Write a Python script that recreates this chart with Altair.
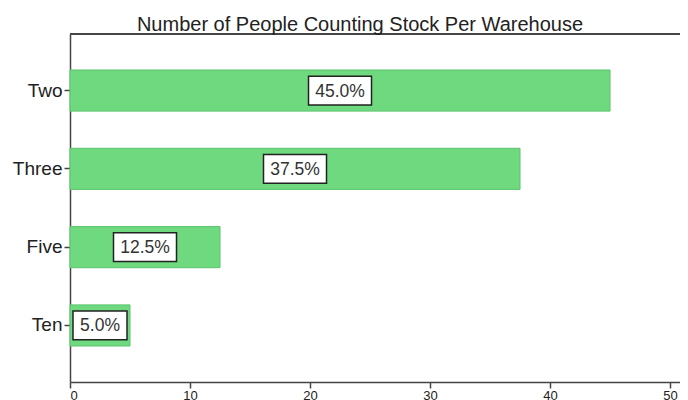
import altair as alt
import pandas as pd

categories = ["Two", "Three", "Five", "Ten"]
percents = [45.0, 37.5, 12.5, 5.0]
x_ticks = [0, 10, 20, 30, 40, 50]
title_text = "Number of People Counting Stock Per Warehouse"

df = pd.DataFrame({"cat": categories, "pct": percents})

FONT = "Liberation Sans"
PLOT_W = 610
X_MAX = 50.83
PX_PER_UNIT = PLOT_W / X_MAX

x_scale = alt.Scale(domain=[0, X_MAX], nice=False, zero=True)
y_scale = alt.Scale(domain=categories, paddingInner=0.475, paddingOuter=0.46)

y_enc = alt.Y("cat:N", sort=categories, scale=y_scale,
              axis=alt.Axis(title=None, labelFont=FONT, labelFontSize=19, labelColor="#222222",
                            tickSize=6, tickColor="#444444", tickWidth=1.5,
                            domainColor="#444444", domainWidth=1.5, labelPadding=2,
                            grid=False))

bars = alt.Chart(df).mark_bar(color="#6ed97f", stroke="#5bc46c", strokeWidth=1).encode(
    x=alt.X("pct:Q", scale=x_scale,
            axis=alt.Axis(title=None, values=x_ticks, labelFont=FONT, labelFontSize=13,
                          labelColor="#222222", tickSize=6, tickColor="#444444", tickWidth=1.5,
                          domainColor="#444444", domainWidth=1.5, labelPadding=1, grid=False)),
    y=y_enc,
)

label_base = alt.Chart(df).transform_calculate(
    label="format(datum.pct, '.1f') + '%'",
    mid="datum.pct / 2",
).transform_calculate(
    hw=f"(length(datum.label) * 9 + 18) / 2 / {PX_PER_UNIT}",
).transform_calculate(
    lo="datum.mid - datum.hw",
    hi="datum.mid + datum.hw",
)

boxes = label_base.mark_bar(height={"band": 0.7}, fill="white", stroke="#222222",
                            strokeWidth=1.5).encode(
    x=alt.X("lo:Q", scale=x_scale),
    x2="hi:Q",
    y=alt.Y("cat:N", sort=categories, scale=y_scale),
)

texts = label_base.mark_text(font=FONT, fontSize=17.5, color="#333333",
                             align="center", baseline="middle", dy=1).encode(
    x=alt.X("mid:Q", scale=x_scale),
    y=alt.Y("cat:N", sort=categories, scale=y_scale),
    text="label:N",
)

top_line = alt.Chart(df).mark_rule(color="#444444", strokeWidth=1.5).encode(
    x=alt.value(0), x2=alt.value(PLOT_W), y=alt.value(0)
)

chart = alt.layer(bars, boxes, texts, top_line).properties(
    width=PLOT_W,
    height=348,
    autosize=alt.AutoSizeParams(type="none"),
    padding={"left": 62, "top": 26, "right": 0, "bottom": 18},
    title=alt.TitleParams(title_text, font=FONT, fontSize=20, fontWeight="normal",
                          color="#222222", anchor="middle", dx=-15, dy=3, offset=1),
).configure_view(stroke=None)

chart.save("out.html", embed_options={"renderer": "svg", "actions": False})
